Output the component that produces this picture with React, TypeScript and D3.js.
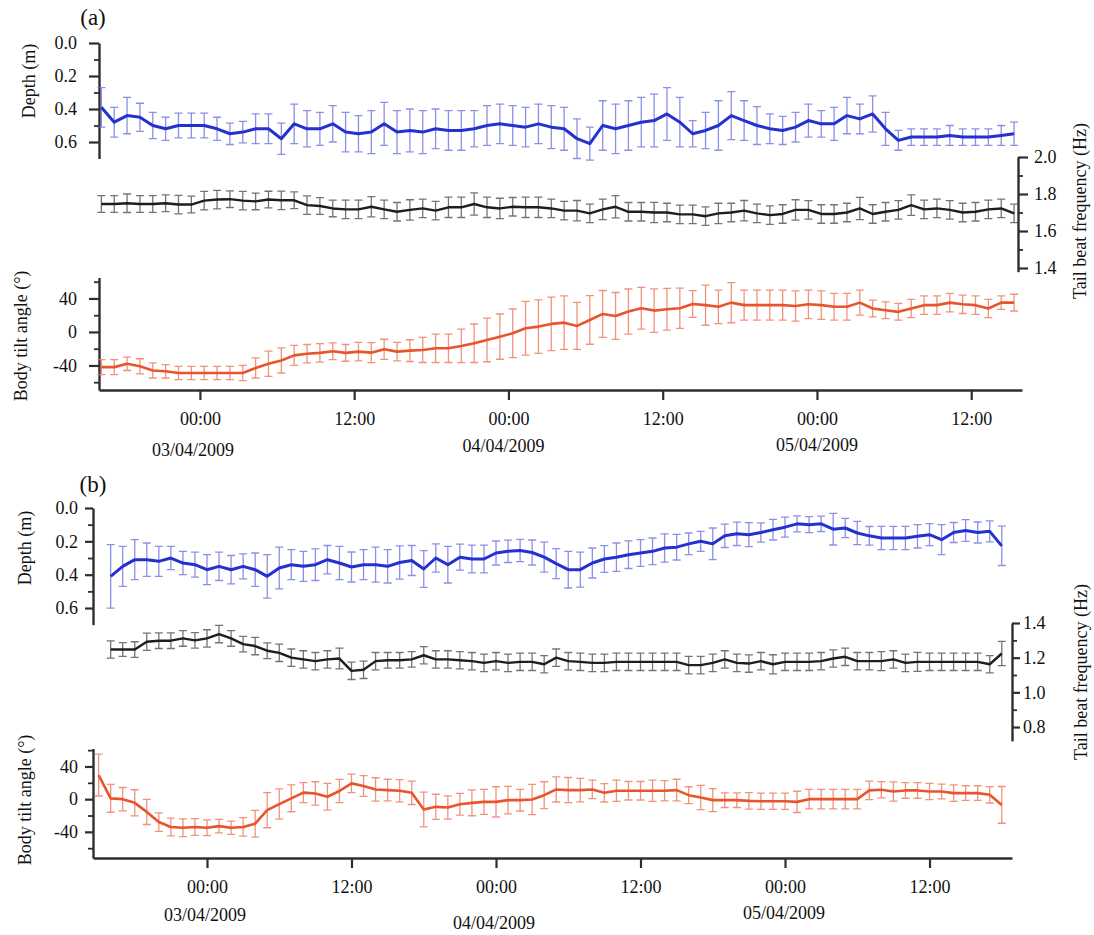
import React, { useEffect, useRef } from "react";
import * as d3 from "d3";

// ---- panel (a): hourly means and errors ----
const depthA = [0.39, 0.48, 0.44, 0.45, 0.50, 0.52, 0.50, 0.50, 0.50, 0.52,
  0.55, 0.54, 0.52, 0.52, 0.58, 0.49, 0.52, 0.52, 0.49, 0.54,
  0.55, 0.54, 0.49, 0.54, 0.53, 0.54, 0.52, 0.53, 0.53, 0.52,
  0.50, 0.49, 0.50, 0.51, 0.49, 0.51, 0.52, 0.58, 0.61, 0.50,
  0.52, 0.50, 0.48, 0.47, 0.43, 0.48, 0.55, 0.53, 0.50, 0.44,
  0.47, 0.50, 0.52, 0.53, 0.51, 0.47, 0.49, 0.49, 0.44, 0.46,
  0.43, 0.52, 0.59, 0.57, 0.57, 0.57, 0.56, 0.57, 0.57, 0.57,
  0.56, 0.55];
const depthErrA = [0.12, 0.09, 0.11, 0.085, 0.08, 0.07, 0.075, 0.075, 0.075, 0.07,
  0.065, 0.065, 0.09, 0.09, 0.095, 0.12, 0.11, 0.10, 0.11, 0.12,
  0.11, 0.13, 0.13, 0.13, 0.13, 0.13, 0.12, 0.12, 0.12, 0.11,
  0.12, 0.12, 0.12, 0.12, 0.12, 0.13, 0.13, 0.12, 0.10, 0.15,
  0.15, 0.15, 0.15, 0.16, 0.16, 0.15, 0.08, 0.11, 0.15, 0.145,
  0.12, 0.115, 0.09, 0.085, 0.09, 0.10, 0.08, 0.10, 0.11, 0.09,
  0.11, 0.10, 0.06, 0.05, 0.05, 0.05, 0.06, 0.05, 0.05, 0.05,
  0.06, 0.07];
const tbfA = [1.746, 1.746, 1.75, 1.746, 1.746, 1.75, 1.743, 1.743, 1.764, 1.77,
  1.772, 1.764, 1.76, 1.77, 1.766, 1.766, 1.74, 1.735, 1.722, 1.717,
  1.717, 1.731, 1.717, 1.704, 1.714, 1.722, 1.71, 1.728, 1.728, 1.746,
  1.728, 1.722, 1.731, 1.728, 1.728, 1.722, 1.71, 1.71, 1.695, 1.717,
  1.731, 1.704, 1.704, 1.70, 1.70, 1.69, 1.69, 1.68, 1.695, 1.70,
  1.71, 1.695, 1.686, 1.692, 1.714, 1.714, 1.692, 1.692, 1.70, 1.722,
  1.692, 1.704, 1.714, 1.74, 1.717, 1.722, 1.714, 1.70, 1.704, 1.717,
  1.722, 1.695];
const tbfErrA = [0.045, 0.045, 0.05, 0.045, 0.045, 0.045, 0.05, 0.045, 0.05, 0.05,
  0.045, 0.05, 0.045, 0.045, 0.05, 0.045, 0.05, 0.045, 0.045, 0.05,
  0.05, 0.055, 0.05, 0.05, 0.055, 0.05, 0.05, 0.055, 0.055, 0.06,
  0.055, 0.055, 0.05, 0.055, 0.055, 0.05, 0.05, 0.055, 0.05, 0.055,
  0.06, 0.05, 0.05, 0.055, 0.05, 0.05, 0.05, 0.05, 0.055, 0.05,
  0.055, 0.05, 0.05, 0.05, 0.055, 0.05, 0.05, 0.05, 0.05, 0.06,
  0.05, 0.05, 0.05, 0.055, 0.05, 0.05, 0.05, 0.05, 0.05, 0.05,
  0.05, 0.05];
const tiltA = [-42, -42, -38, -41, -46, -47, -49, -49, -49, -49,
  -49, -49, -43, -38, -34, -28, -26, -25, -23, -25,
  -23.5, -24.7, -20.7, -23.5, -22.3, -21.5, -19.5, -19.5, -16.7, -13.5,
  -9.6, -5.6, -1.6, 4.4, 6.4, 9.6, 11.1, 7.2, 14.3, 21.5,
  19.1, 24.3, 28.3, 25.5, 27.1, 28.3, 33.4, 32, 30, 35,
  32, 32, 32, 32, 31, 33, 32, 30, 30, 35,
  28, 26, 24, 28, 32, 32, 35, 33, 32, 28,
  35, 35];
const tiltErrA = [9, 9, 8, 9, 9, 8, 8, 8, 8, 8,
  8, 9, 12, 15, 15, 12, 11, 11, 10, 10,
  11, 12, 12, 11, 13, 15, 17, 17, 20, 23,
  26, 27, 29, 32, 32, 32, 32, 28, 29, 28,
  28, 27, 25, 26, 25, 24, 16, 24, 20, 24,
  18, 18, 18, 18, 18, 17, 17, 16, 16, 15,
  10, 10, 10, 11, 11, 11, 11, 11, 11, 11,
  8, 10];

// ---- panel (b) ----
const depthB = [0.41, 0.35, 0.31, 0.31, 0.32, 0.30, 0.33, 0.34, 0.37, 0.35,
  0.37, 0.35, 0.37, 0.41, 0.36, 0.34, 0.35, 0.34, 0.31, 0.33,
  0.354, 0.34, 0.34, 0.35, 0.327, 0.315, 0.366, 0.30, 0.34, 0.295,
  0.306, 0.306, 0.27, 0.26, 0.255, 0.267, 0.295, 0.334, 0.37, 0.37,
  0.33, 0.306, 0.295, 0.28, 0.27, 0.26, 0.24, 0.235, 0.215, 0.20,
  0.215, 0.167, 0.155, 0.16, 0.147, 0.13, 0.115, 0.095, 0.10, 0.095,
  0.127, 0.12, 0.15, 0.167, 0.18, 0.18, 0.18, 0.17, 0.16, 0.19,
  0.147, 0.135, 0.147, 0.14, 0.227];
const depthErrB = [0.19, 0.12, 0.12, 0.10, 0.09, 0.07, 0.07, 0.075, 0.09, 0.085,
  0.085, 0.075, 0.10, 0.13, 0.125, 0.09, 0.09, 0.095, 0.085, 0.10,
  0.09, 0.09, 0.105, 0.10, 0.10, 0.09, 0.11, 0.085, 0.11, 0.078,
  0.083, 0.083, 0.072, 0.067, 0.067, 0.075, 0.09, 0.09, 0.11, 0.105,
  0.09, 0.08, 0.085, 0.083, 0.08, 0.08, 0.085, 0.077, 0.065, 0.06,
  0.095, 0.07, 0.07, 0.072, 0.058, 0.062, 0.06, 0.048, 0.048, 0.046,
  0.095, 0.058, 0.07, 0.056, 0.07, 0.07, 0.07, 0.07, 0.066, 0.09,
  0.06, 0.065, 0.063, 0.063, 0.118];
const tbfB = [1.247, 1.247, 1.247, 1.292, 1.298, 1.298, 1.311, 1.30, 1.311, 1.336,
  1.311, 1.278, 1.267, 1.24, 1.228, 1.20, 1.19, 1.18, 1.19, 1.195,
  1.124, 1.13, 1.18, 1.185, 1.185, 1.19, 1.214, 1.19, 1.19, 1.185,
  1.18, 1.17, 1.18, 1.17, 1.176, 1.176, 1.162, 1.20, 1.18, 1.176,
  1.17, 1.17, 1.176, 1.176, 1.176, 1.176, 1.176, 1.176, 1.157, 1.157,
  1.17, 1.19, 1.17, 1.166, 1.18, 1.162, 1.176, 1.176, 1.176, 1.18,
  1.195, 1.205, 1.18, 1.18, 1.18, 1.19, 1.17, 1.176, 1.176, 1.176,
  1.176, 1.176, 1.176, 1.162, 1.224];
const tbfErrB = [0.05, 0.04, 0.045, 0.05, 0.045, 0.045, 0.045, 0.045, 0.05, 0.05,
  0.045, 0.045, 0.05, 0.045, 0.05, 0.05, 0.05, 0.05, 0.05, 0.06,
  0.05, 0.05, 0.05, 0.045, 0.045, 0.045, 0.05, 0.05, 0.05, 0.05,
  0.05, 0.05, 0.05, 0.05, 0.05, 0.05, 0.05, 0.05, 0.05, 0.05,
  0.05, 0.05, 0.05, 0.05, 0.05, 0.05, 0.05, 0.05, 0.05, 0.05,
  0.05, 0.05, 0.05, 0.05, 0.05, 0.055, 0.05, 0.05, 0.05, 0.05,
  0.05, 0.05, 0.05, 0.05, 0.055, 0.05, 0.05, 0.055, 0.05, 0.05,
  0.05, 0.05, 0.05, 0.05, 0.07];
const tiltB = [29.5, 1, 0, -4.5, -15.6, -28, -34, -35, -34, -35,
  -33, -35, -34, -30, -13.5, -6, 1, 8, 7, 3,
  10, 19.3, 16, 11.9, 11.1, 10.3, 7.8, -12.7, -9.4, -10.2,
  -6.2, -4.5, -3.3, -3.3, -1.2, -1.2, -0.4, 4.9, 11.9, 11.1,
  11.1, 11.9, 7.8, 10.3, 10.3, 10.3, 10.3, 10.3, 11.1, 4.9,
  2, -1.2, -1.2, -1.2, -2.1, -2.5, -2.5, -2.5, -3.3, 0,
  0, 0, 0, 0, 10.7, 11.5, 9.4, 10.7, 10.7, 9.4,
  9.4, 7.4, 7.4, 7.4, 5.3, -7];
const tiltErrB = [25.6, 17, 14.3, 16, 15.4, 11.3, 10.9, 10.9, 10.3, 9.6,
  8.2, 8.2, 11.3, 16.4, 21.5, 18.5, 16.4, 12.3, 14.3, 16.4,
  14.3, 11.3, 12.7, 14.3, 13.3, 13.7, 14.3, 21.3, 15.4, 14.3,
  13.3, 15.8, 15.4, 18.5, 16.8, 13.3, 18.5, 16.4, 15.4, 15.4,
  14.3, 11.3, 11.3, 12.9, 11.3, 11.3, 12.9, 12.3, 13.3, 10.3,
  14.8, 14, 9, 9, 10, 10, 10, 10, 13, 12,
  12, 12, 12, 12, 11.3, 10, 11.7, 9.6, 9.6, 10,
  9, 10, 9, 9, 10, 22.5];

// ---- ticks and labels ----
const parseT = d3.timeParse("%Y-%m-%d %H:%M");
const hourTicks = ["2009-04-03 00:00", "2009-04-03 12:00", "2009-04-04 00:00",
  "2009-04-04 12:00", "2009-04-05 00:00", "2009-04-05 12:00"];
const dateLabels = ["03/04/2009", "04/04/2009", "05/04/2009"];
const depthTicks = [0, 0.2, 0.4, 0.6];
const depthMinor = [0.1, 0.3, 0.5];
const tbfTicksA = [1.4, 1.6, 1.8, 2.0];
const tbfMinorA = [1.5, 1.7, 1.9];
const tbfTicksB = [0.8, 1.0, 1.2, 1.4];
const tbfMinorB = [0.9, 1.1, 1.3];
const tiltTicks = [-40, 0, 40];
const tiltMinor = [-60, -20, 20, 60];

const FONT = "'Liberation Serif', 'Times New Roman', serif";
const AXIS = "#2e2e2e";

const hourly = (start, n) => d3.range(n).map(i => d3.timeHour.offset(parseT(start), i));

const styleAxis = (g, major) => {
  g.select(".domain").attr("stroke", AXIS).attr("stroke-width", 2.4);
  g.selectAll(".tick line").attr("stroke", AXIS).attr("stroke-width", major ? 2.2 : 1.8);
  g.selectAll("text").attr("font-family", FONT).attr("font-size", 18).attr("fill", "#111");
};

function errSeries(g, x, y, times, vals, errs, color, barColor, lw) {
  const pts = vals.map((v, i) => ({ t: times[i], v, e: errs[i] }));
  const cap = 4;
  g.append("path")
    .attr("fill", "none")
    .attr("stroke", barColor)
    .attr("stroke-width", 1.3)
    .attr("d", pts.map(d => {
      const px = x(d.t), y1 = y(d.v - d.e), y2 = y(d.v + d.e);
      return `M${px},${y1}V${y2}M${px - cap},${y1}H${px + cap}M${px - cap},${y2}H${px + cap}`;
    }).join(""));
  g.append("path")
    .datum(pts)
    .attr("fill", "none")
    .attr("stroke", color)
    .attr("stroke-width", lw)
    .attr("stroke-linejoin", "round")
    .attr("d", d3.line().x(d => x(d.t)).y(d => y(d.v)));
}

function drawPanel(svg, p) {
  const x = d3.scaleTime().domain([parseT(p.xStart), parseT(p.xEnd)]).range([p.left, p.right]);
  const yD = d3.scaleLinear().domain([0, 0.7]).range(p.depthRange);
  const yF = d3.scaleLinear().domain(p.tbfDomain).range(p.tbfRange);
  const yT = d3.scaleLinear().domain(p.tiltDomain).range([p.bottom, p.tiltTop]);

  // depth axis
  const gd = svg.append("g").attr("transform", `translate(${p.left},0)`);
  gd.call(d3.axisLeft(yD).tickValues(depthTicks).tickSize(p.tick).tickSizeOuter(0)
    .tickPadding(p.pad).tickFormat(d3.format(".1f")));
  styleAxis(gd, true);
  const gdm = svg.append("g").attr("transform", `translate(${p.left},0)`);
  gdm.call(d3.axisLeft(yD).tickValues(depthMinor).tickSize(5).tickFormat(() => ""));
  gdm.select(".domain").remove();
  styleAxis(gdm, false);

  // tail beat axis (right)
  const gf = svg.append("g").attr("transform", `translate(${p.tbfX},0)`);
  gf.call(d3.axisRight(yF).tickValues(p.tbfTicks).tickSize(p.tick).tickSizeOuter(0)
    .tickPadding(p.rpad).tickFormat(d3.format(".1f")));
  styleAxis(gf, true);
  const gfm = svg.append("g").attr("transform", `translate(${p.tbfX},0)`);
  gfm.call(d3.axisRight(yF).tickValues(p.tbfMinor).tickSize(5).tickFormat(() => ""));
  gfm.select(".domain").remove();
  styleAxis(gfm, false);

  // tilt axis
  const gt = svg.append("g").attr("transform", `translate(${p.left},0)`);
  gt.call(d3.axisLeft(yT).tickValues(tiltTicks).tickSize(p.tick).tickSizeOuter(0)
    .tickPadding(p.pad).tickFormat(d => String(d)));
  styleAxis(gt, true);
  const gtm = svg.append("g").attr("transform", `translate(${p.left},0)`);
  gtm.call(d3.axisLeft(yT).tickValues(tiltMinor).tickSize(5).tickFormat(() => ""));
  gtm.select(".domain").remove();
  styleAxis(gtm, false);

  // time axis
  const ticks = hourTicks.map(parseT);
  const gx = svg.append("g").attr("transform", `translate(0,${p.bottom})`);
  gx.call(d3.axisBottom(x).tickValues(ticks).tickSize(10).tickSizeOuter(0)
    .tickPadding(12).tickFormat(d3.timeFormat("%H:%M")));
  styleAxis(gx, true);

  dateLabels.forEach((lab, k) => {
    svg.append("text")
      .attr("x", x(ticks[k * 2]) + p.dateDx[k])
      .attr("y", p.dateY[k])
      .attr("text-anchor", "middle")
      .attr("font-family", FONT).attr("font-size", 18).attr("fill", "#111")
      .text(lab);
  });

  // series
  errSeries(svg.append("g"), x, yD, p.depthTimes, p.depth, p.depthErr, "#2431cf", "rgba(98,108,222,0.75)", 3);
  errSeries(svg.append("g"), x, yF, p.tbfTimes, p.tbf, p.tbfErr, "#1e1e1e", "rgba(70,70,70,0.75)", 2.4);
  errSeries(svg.append("g"), x, yT, p.tiltTimes, p.tilt, p.tiltErr, "#e8542c", "rgba(238,128,100,0.85)", 2.6);

  // labels
  const label = (txt, cx, cy, rot, size = 18) => svg.append("text")
    .attr("transform", `translate(${cx},${cy}) rotate(${rot})`)
    .attr("text-anchor", "middle")
    .attr("dominant-baseline", "central")
    .attr("font-family", FONT).attr("font-size", size).attr("fill", "#111")
    .text(txt);
  label(p.label, p.labelPos[0], p.labelPos[1], 0, 23);
  label("Depth (m)", p.depthLab[0], p.depthLab[1], -90);
  label("Body tilt angle (°)", p.tiltLab[0], p.tiltLab[1], -90);
  label("Tail beat frequency (Hz)", p.tbfLab[0], p.tbfLab[1], -90);
}

const panelA = {
  label: "(a)", labelPos: [93, 17],
  xStart: "2009-04-02 16:09", xEnd: "2009-04-05 15:57", left: 99, right: 1022, bottom: 390,
  depthRange: [43, 158.5], tbfDomain: [1.38, 2.0], tbfRange: [271.7, 157], tbfX: 1018,
  tbfTicks: tbfTicksA, tbfMinor: tbfMinorA,
  tiltDomain: [-69.3, 65], tiltTop: 277.5,
  tick: 10, pad: 12, rpad: 6,
  depthTimes: hourly("2009-04-02 16:20", depthA.length), depth: depthA, depthErr: depthErrA,
  tbfTimes: hourly("2009-04-02 16:20", tbfA.length), tbf: tbfA, tbfErr: tbfErrA,
  tiltTimes: hourly("2009-04-02 16:20", tiltA.length), tilt: tiltA, tiltErr: tiltErrA,
  dateDx: [-7, -5, 0], dateY: [456, 452, 451],
  depthLab: [29, 81], tiltLab: [21, 336], tbfLab: [1080, 211],
};

const panelB = {
  label: "(b)", labelPos: [93, 484],
  xStart: "2009-04-02 14:32", xEnd: "2009-04-05 18:51", left: 93, right: 1012, bottom: 858,
  depthRange: [508, 624.7], tbfDomain: [0.72, 1.4], tbfRange: [740.9, 623], tbfX: 1012,
  tbfTicks: tbfTicksB, tbfMinor: tbfMinorB,
  tiltDomain: [-72, 62], tiltTop: 748.5,
  tick: 8, pad: 7, rpad: 3,
  depthTimes: hourly("2009-04-02 16:00", depthB.length), depth: depthB, depthErr: depthErrB,
  tbfTimes: hourly("2009-04-02 16:00", tbfB.length), tbf: tbfB, tbfErr: tbfErrB,
  tiltTimes: hourly("2009-04-02 15:00", tiltB.length), tilt: tiltB, tiltErr: tiltErrB,
  dateDx: [-2, -2, -1], dateY: [921, 929, 919],
  depthLab: [25, 548], tiltLab: [25, 800], tbfLab: [1081, 672],
};

const Chart = () => {
  const container = useRef(null);

  useEffect(() => {
    const el = container.current;
    el.innerHTML = "";
    const svg = d3.select(el).append("svg")
      .attr("width", 1094).attr("height", 935)
      .style("display", "block")
      .style("background", "#fff");
    drawPanel(svg, panelA);
    drawPanel(svg, panelB);
  }, []);

  return <div ref={container} style={{ position: "absolute", left: 0, top: 0 }}></div>;
};

export default function App() {
  return <Chart />;
}
